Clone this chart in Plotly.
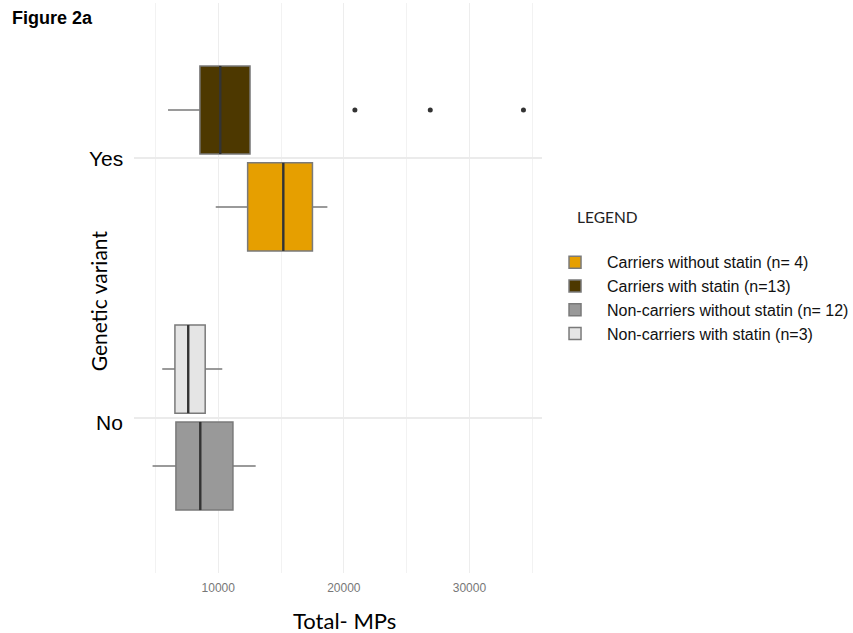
import plotly.graph_objects as go

# ---- data ----
groups = ["Carriers without statin (n= 4)", "Carriers with statin (n=13)",
          "Non-carriers without statin (n= 12)", "Non-carriers with statin (n=3)"]
variant = ["Yes", "Yes", "No", "No"]
statin = [False, True, False, True]
lower_fence = [9800, 6000, 4770, 5540]
q1 = [12340, 8540, 6630, 6550]
median = [15180, 10160, 8570, 7610]
q3 = [17500, 12530, 11170, 8960]
upper_fence = [18690, 12530, 12980, 10320]
outliers = [[], [20880, 26880, 34300], [], []]
colors = ["#E69F00", "#4D3800", "#999999", "#E5E5E5"]

cat_labels = ["No", "Yes"]
cat_pos = {"No": 1, "Yes": 2}
x_ticks = [10000, 20000, 30000]

dodge = 0.187
box_w = 0.34

fig = go.Figure()
for i, g in enumerate(groups):
    pos = cat_pos[variant[i]] + (dodge if statin[i] else -dodge)
    fig.add_trace(go.Box(
        name=g, y=[pos], q1=[q1[i]], median=[median[i]], q3=[q3[i]],
        lowerfence=[lower_fence[i]], upperfence=[upper_fence[i]],
        orientation="h", width=box_w, fillcolor=colors[i],
        line=dict(color="#7a7a7a", width=1.5), whiskerwidth=0,
        boxpoints=False, showlegend=True,
    ))
    fig.add_trace(go.Scatter(
        x=[median[i], median[i]], y=[pos - box_w / 2, pos + box_w / 2],
        mode="lines", line=dict(color="#333333", width=2.4),
        showlegend=False, hoverinfo="skip",
    ))
    if outliers[i]:
        fig.add_trace(go.Scatter(
            x=outliers[i], y=[pos] * len(outliers[i]), mode="markers",
            marker=dict(color="#333333", size=5), showlegend=False,
        ))

fig.update_layout(
    width=853, height=633,
    margin=dict(l=134, r=311, t=3, b=60, autoexpand=False),
    plot_bgcolor="white", paper_bgcolor="white",
    showlegend=True,
    legend=dict(
        x=1.0025, y=0.575, xanchor="left", yanchor="top",
        itemwidth=54,
        font=dict(family="Liberation Sans, Arial", size=16, color="#111"),
        bgcolor="rgba(0,0,0,0)", tracegroupgap=0,
    ),
    xaxis=dict(
        range=[3292, 35777], tickvals=x_ticks, ticktext=[str(v) for v in x_ticks],
        showgrid=True, gridcolor="#EDEDED", gridwidth=1.4,
        minor=dict(dtick=5000, tick0=0, showgrid=True, gridcolor="#F2F2F2", gridwidth=1),
        zeroline=False, showline=False,
        ticks="outside", ticklen=4, tickcolor="rgba(0,0,0,0)",
        tickfont=dict(family="Liberation Sans, Arial", size=12, color="#777"),
    ),
    yaxis=dict(
        range=[0.4, 2.6], tickvals=[cat_pos[c] for c in cat_labels],
        showticklabels=False, showgrid=True, gridcolor="#EBEBEB", gridwidth=2,
        zeroline=False, showline=False,
    ),
)

annotations = [
    dict(text="<b>Figure 2a</b>", xref="paper", yref="paper", x=-0.304, y=0.974,
         xanchor="left", yanchor="middle", showarrow=False,
         font=dict(family="Liberation Sans, Arial", size=18, color="black")),
    dict(text="Genetic variant", xref="paper", yref="paper", x=-0.088, y=0.477,
         xanchor="center", yanchor="middle", textangle=-90, showarrow=False,
         font=dict(family="Lato", size=21, color="black")),
    dict(text="Total- MPs", xref="paper", yref="paper", x=0.517, y=-0.0825,
         xanchor="center", yanchor="middle", showarrow=False,
         font=dict(family="Lato", size=22, color="black")),
    dict(text="LEGEND", xref="paper", yref="paper", x=1.081, y=0.6246,
         xanchor="left", yanchor="middle", showarrow=False,
         font=dict(family="Lato", size=15.5, color="#222")),
]
for c in cat_labels:
    annotations.append(dict(
        text=c, xref="paper", yref="y", x=-0.022, y=cat_pos[c],
        xanchor="right", yanchor="middle", showarrow=False,
        yshift=(-5 if c == "No" else 0),
        font=dict(family="Liberation Sans, Arial", size=21, color="black")))
fig.update_layout(annotations=annotations)

fig.write_html("out.html", config={"displayModeBar": False},
               post_script="document.body.style.margin='0';document.body.style.overflow='hidden';")
